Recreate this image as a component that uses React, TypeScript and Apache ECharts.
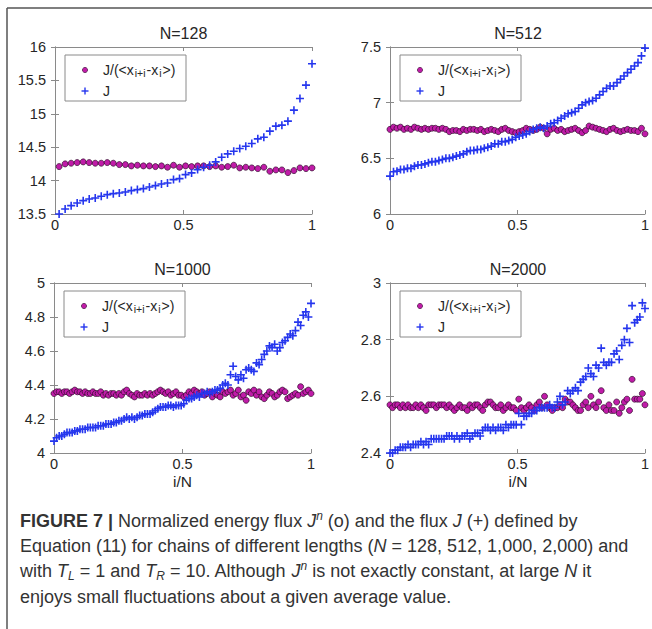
import React, { useEffect, useRef } from "react";
import * as echarts from "echarts";

// ---------- data ----------
const titles = ["N=128", "N=512", "N=1000", "N=2000"];
const legendNames = ["J/(<x_{i+i}-x_i>)", "J"];

const yMin = [13.5, 6, 4, 2.4];
const yMax = [16, 7.5, 5, 3];
const yStep = [0.5, 0.5, 0.2, 0.2];
const xFirst = [0.016, 0.0, 0.0, 0.0];

const circ128 = [
  14.21, 14.25, 14.26, 14.27, 14.28, 14.27, 14.26, 14.26, 14.27, 14.26,
  14.24, 14.24, 14.22, 14.23, 14.22, 14.22, 14.21, 14.22, 14.2, 14.23,
  14.2, 14.22, 14.21, 14.22, 14.22, 14.21, 14.22, 14.2, 14.21, 14.23,
  14.19, 14.2, 14.19, 14.18, 14.2, 14.14, 14.16, 14.16, 14.12, 14.15,
  14.19, 14.18, 14.19,
];
const flux128 = [
  13.5, 13.575, 13.625, 13.665, 13.7, 13.725, 13.74, 13.765, 13.79, 13.805,
  13.815, 13.83, 13.85, 13.865, 13.88, 13.905, 13.925, 13.95, 13.965, 14.015,
  14.03, 14.09, 14.115, 14.165, 14.2, 14.23, 14.28, 14.35, 14.4, 14.44,
  14.48, 14.515, 14.555, 14.625, 14.65, 14.74, 14.815, 14.83, 14.89, 15.055,
  15.23, 15.43, 15.75,
];
const circ512 = [
  6.76, 6.78, 6.77, 6.78, 6.76, 6.77, 6.76, 6.78, 6.77, 6.76,
  6.77, 6.76, 6.77, 6.77, 6.76, 6.77, 6.76, 6.74, 6.75, 6.75,
  6.74, 6.76, 6.75, 6.76, 6.76, 6.75, 6.76, 6.74, 6.75, 6.76,
  6.75, 6.74, 6.76, 6.77, 6.75, 6.74, 6.73, 6.74, 6.75, 6.77,
  6.76, 6.75, 6.76, 6.78, 6.77, 6.72, 6.76, 6.77, 6.75, 6.76,
  6.74, 6.75, 6.76, 6.77, 6.75, 6.73, 6.75, 6.79, 6.78, 6.77,
  6.76, 6.75, 6.74, 6.76, 6.77, 6.75, 6.74, 6.75, 6.76, 6.75,
  6.75, 6.74, 6.77, 6.72,
];
const flux512 = [
  6.34, 6.38, 6.385, 6.4, 6.4, 6.41, 6.41, 6.43, 6.44, 6.44,
  6.45, 6.46, 6.47, 6.47, 6.48, 6.49, 6.5, 6.5, 6.51, 6.52,
  6.53, 6.54, 6.56, 6.57, 6.57, 6.58, 6.58, 6.59, 6.6, 6.61,
  6.63, 6.63, 6.65, 6.65, 6.66, 6.67, 6.69, 6.7, 6.71, 6.72,
  6.74, 6.76, 6.77, 6.78, 6.77, 6.79, 6.81, 6.82, 6.84, 6.86,
  6.88, 6.9, 6.91, 6.92, 6.95, 6.98, 7.0, 7.01, 7.02, 7.04,
  7.07, 7.1, 7.13, 7.15, 7.15, 7.18, 7.21, 7.24, 7.27, 7.3,
  7.33, 7.36, 7.42, 7.49,
];
const circ1000 = [
  4.35, 4.36, 4.36, 4.35, 4.36, 4.36, 4.35, 4.36, 4.37, 4.36,
  4.36, 4.35, 4.36, 4.35, 4.35, 4.36, 4.35, 4.35, 4.36, 4.34,
  4.35, 4.34, 4.35, 4.35, 4.34, 4.35, 4.34, 4.36, 4.37, 4.35,
  4.34, 4.33, 4.35, 4.34, 4.34, 4.35, 4.34, 4.35, 4.34, 4.35,
  4.36, 4.37, 4.36, 4.35, 4.36, 4.34, 4.35, 4.36, 4.34, 4.34,
  4.33, 4.34, 4.36, 4.35, 4.37, 4.36, 4.35, 4.36, 4.34, 4.35,
  4.36, 4.33, 4.35, 4.34, 4.33, 4.36, 4.35, 4.36, 4.37, 4.34,
  4.35, 4.37, 4.33, 4.34, 4.31, 4.36, 4.35, 4.37, 4.34, 4.36,
  4.33, 4.32, 4.34, 4.36, 4.35, 4.33, 4.34, 4.36, 4.37, 4.36,
  4.32, 4.33, 4.34, 4.35, 4.34, 4.39, 4.35, 4.36, 4.37, 4.35,
];
const flux1000 = [
  4.07, 4.09, 4.1, 4.1, 4.11, 4.12, 4.12, 4.12, 4.13, 4.13,
  4.14, 4.14, 4.14, 4.15, 4.15, 4.15, 4.15, 4.16, 4.16, 4.16,
  4.17, 4.17, 4.17, 4.18, 4.18, 4.19, 4.19, 4.2, 4.21, 4.2,
  4.21, 4.2, 4.21, 4.22, 4.22, 4.23, 4.23, 4.23, 4.24, 4.25,
  4.26, 4.27, 4.27, 4.27, 4.28, 4.28, 4.27, 4.28, 4.28, 4.28,
  4.29, 4.31, 4.32, 4.32, 4.33, 4.34, 4.33, 4.35, 4.35, 4.36,
  4.35, 4.36, 4.37, 4.37, 4.38, 4.4, 4.41, 4.4, 4.46, 4.51,
  4.45, 4.43, 4.46, 4.44, 4.49, 4.5, 4.49, 4.48, 4.53, 4.52,
  4.55, 4.58, 4.6, 4.63, 4.62, 4.64, 4.6, 4.62, 4.65, 4.66,
  4.68, 4.7, 4.69, 4.72, 4.77, 4.75, 4.81, 4.83, 4.8, 4.88,
];
const circ2000 = [
  2.57, 2.56, 2.57, 2.57, 2.56, 2.57, 2.56, 2.57, 2.56, 2.56,
  2.57, 2.56, 2.57, 2.56, 2.55, 2.57, 2.57, 2.57, 2.56, 2.57,
  2.57, 2.57, 2.56, 2.57, 2.56, 2.55, 2.56, 2.57, 2.56, 2.56,
  2.55, 2.57, 2.56, 2.57, 2.57, 2.56, 2.55, 2.57, 2.58, 2.58,
  2.57, 2.56, 2.56, 2.57, 2.55, 2.56, 2.57, 2.56, 2.56, 2.55,
  2.59, 2.56, 2.55, 2.56, 2.57, 2.56, 2.55, 2.57, 2.58, 2.56,
  2.6, 2.57, 2.56, 2.55, 2.56, 2.56, 2.57, 2.56, 2.59, 2.58,
  2.58, 2.57, 2.56, 2.55, 2.55, 2.57, 2.58, 2.56, 2.6, 2.57,
  2.56, 2.58, 2.62, 2.56, 2.55, 2.57, 2.55, 2.55, 2.58, 2.54,
  2.56, 2.58, 2.59, 2.55, 2.66, 2.59, 2.59, 2.59, 2.61, 2.57,
];
const flux2000 = [
  2.4, 2.4, 2.41, 2.41, 2.42, 2.42, 2.42, 2.43, 2.42, 2.43,
  2.43, 2.43, 2.44, 2.43, 2.44, 2.43, 2.45, 2.45, 2.45, 2.45,
  2.45, 2.45, 2.46, 2.46, 2.46, 2.45, 2.46, 2.45, 2.46, 2.46,
  2.47, 2.45, 2.46, 2.47, 2.47, 2.46, 2.48, 2.49, 2.49, 2.48,
  2.49, 2.48, 2.49, 2.49, 2.48, 2.5, 2.49, 2.5, 2.5, 2.5,
  2.54, 2.5, 2.53, 2.53, 2.54, 2.54, 2.55, 2.55, 2.56, 2.56,
  2.56, 2.56, 2.57, 2.56, 2.56, 2.58, 2.6, 2.57, 2.58, 2.62,
  2.61, 2.62, 2.63, 2.62, 2.65, 2.66, 2.67, 2.7, 2.68, 2.67,
  2.71, 2.7, 2.77, 2.72, 2.71, 2.72, 2.72, 2.75, 2.76, 2.73,
  2.78, 2.8, 2.84, 2.79, 2.92, 2.86, 2.87, 2.88, 2.93, 2.91,
];

const circSeries = [circ128, circ512, circ1000, circ2000];
const fluxSeries = [flux128, flux512, flux1000, flux2000];

// ---------- layout ----------
const grids = [
  { left: 55, top: 47, width: 257, height: 167 },
  { left: 390, top: 47, width: 256, height: 167 },
  { left: 54, top: 283, width: 257, height: 170 },
  { left: 390, top: 283, width: 256, height: 170 },
];
const FONT = "'Liberation Sans', Arial, Helvetica, sans-serif";
const MAGENTA = "#c01ca8";
const MAG_EDGE = "#2e0a2a";
const BLUE = "#2536ee";
const AXIS = "#8a8a8a";
const TEXT = "#262626";
const PLUS = "path://M0,4H4V0H6V4H10V6H6V10H4V6H0Z";

function toPairs(vals: number[], x0: number) {
  const n = vals.length;
  return vals.map((v, i) => [x0 + ((1 - x0) * i) / (n - 1), v]);
}
const fmt = (v: number) => String(+v.toFixed(2));

export default function App() {
  const ref = useRef<HTMLDivElement>(null);
  useEffect(() => {
    if (!ref.current) return;
    const chart = echarts.init(ref.current, undefined, { renderer: "svg" });
    const xAxis: any[] = [];
    const yAxis: any[] = [];
    const series: any[] = [];
    const graphic: any[] = [];

    grids.forEach((g, i) => {
      const tickStyle = { show: true, inside: true, length: 4, lineStyle: { color: AXIS, width: 1 } };
      const lineStyle = { show: true, lineStyle: { color: AXIS, width: 1 } };
      xAxis.push({
        type: "value", gridIndex: i, position: "bottom", min: 0, max: 1, interval: 0.5,
        axisLine: lineStyle, axisTick: tickStyle, splitLine: { show: false },
        axisLabel: { color: TEXT, fontSize: 14.5, lineHeight: 14, fontFamily: FONT, margin: 4, formatter: fmt },
      });
      xAxis.push({
        type: "value", gridIndex: i, position: "top", min: 0, max: 1, interval: 0.5,
        axisLine: lineStyle, axisTick: tickStyle, splitLine: { show: false }, axisLabel: { show: false },
      });
      yAxis.push({
        type: "value", gridIndex: i, position: "left", min: yMin[i], max: yMax[i], interval: yStep[i],
        axisLine: lineStyle, axisTick: tickStyle, splitLine: { show: false },
        axisLabel: { color: TEXT, fontSize: 14.5, fontFamily: FONT, margin: 9, formatter: fmt },
      });
      yAxis.push({
        type: "value", gridIndex: i, position: "right", min: yMin[i], max: yMax[i], interval: yStep[i],
        axisLine: lineStyle, axisTick: tickStyle, splitLine: { show: false }, axisLabel: { show: false },
      });
      series.push({
        type: "scatter", name: legendNames[0], xAxisIndex: 2 * i, yAxisIndex: 2 * i,
        data: toPairs(circSeries[i], xFirst[i]), symbol: "circle", symbolSize: 6,
        itemStyle: { color: MAGENTA, borderColor: MAG_EDGE, borderWidth: 0.7, opacity: 1 },
        clip: false, z: 2,
      });
      series.push({
        type: "scatter", name: legendNames[1], xAxisIndex: 2 * i, yAxisIndex: 2 * i,
        data: toPairs(fluxSeries[i], xFirst[i]), symbol: PLUS, symbolSize: 8,
        itemStyle: { color: BLUE, opacity: 1 }, clip: false, z: 3,
      });

      // title
      graphic.push({
        type: "text", x: g.left + g.width / 2, y: g.top - 14,
        style: { text: titles[i], fontSize: 16, fontFamily: FONT, fill: TEXT, align: "center", verticalAlign: "middle" },
      });
      if (i >= 2) {
        graphic.push({
          type: "text", x: g.left + g.width / 2, y: g.top + g.height + 28,
          style: { text: "i/N", fontSize: 15.5, lineHeight: 15, fontFamily: FONT, fill: TEXT, align: "center", verticalAlign: "middle" },
        });
      }
      // legend box
      const bx = g.left + 10;
      const by = g.top + 8;
      graphic.push({
        type: "rect", shape: { x: bx, y: by, width: 121, height: 46 },
        style: { fill: "#fff", stroke: "#8a8a8a", lineWidth: 1 }, z: 10,
      });
      graphic.push({
        type: "circle", shape: { cx: g.left + 30, cy: by + 15, r: 2.6 },
        style: { fill: MAGENTA, stroke: MAG_EDGE, lineWidth: 0.6 }, z: 11,
      });
      graphic.push({
        type: "line", shape: { x1: g.left + 26.5, y1: by + 36, x2: g.left + 33.5, y2: by + 36 },
        style: { stroke: BLUE, lineWidth: 1.4 }, z: 11,
      });
      graphic.push({
        type: "line", shape: { x1: g.left + 30, y1: by + 32.5, x2: g.left + 30, y2: by + 39.5 },
        style: { stroke: BLUE, lineWidth: 1.4 }, z: 11,
      });
      graphic.push({
        type: "text", x: g.left + 48, y: by + 15, z: 11,
        style: {
          text: "{m|J/(<x}{s|i+i}{m|-x}{s|i}{m|>)}",
          verticalAlign: "middle", align: "left",
          rich: {
            m: { fontSize: 14, fontFamily: FONT, fill: TEXT, lineHeight: 17 },
            s: { fontSize: 10.5, fontFamily: FONT, fill: TEXT, lineHeight: 10, verticalAlign: "bottom", padding: [0, 1, 0, 1] },
          },
        },
      });
      graphic.push({
        type: "text", x: g.left + 48, y: by + 36, z: 11,
        style: { text: "J", fontSize: 14, fontFamily: FONT, fill: TEXT, verticalAlign: "middle", align: "left" },
      });
    });

    // frame
    graphic.push({ type: "line", shape: { x1: 7, y1: 8, x2: 652, y2: 8 }, style: { stroke: "#555", lineWidth: 1.5 } });
    graphic.push({ type: "line", shape: { x1: 7, y1: 8, x2: 7, y2: 629 }, style: { stroke: "#555", lineWidth: 1.5 } });

    // caption
    const base = { fontSize: 18, fontFamily: FONT, fill: "#333", lineHeight: 22 };
    const rich = {
      b: { ...base, fontWeight: "bold" },
      i: { ...base, fontStyle: "italic" },
      sup: { fontSize: 12, fontFamily: FONT, fill: "#333", lineHeight: 12, verticalAlign: "top", fontStyle: "italic" },
      sub: { fontSize: 12, fontFamily: FONT, fill: "#333", lineHeight: 12, verticalAlign: "bottom", fontStyle: "italic" },
      t: base,
    };
    const captionLines = [
      "{b|FIGURE 7 |}{t| Normalized energy flux }{i|J}{sup|n}{t| (o) and the flux }{i|J}{t| (+) defined by}",
      "{t|Equation (11) for chains of different lengths (}{i|N}{t| = 128, 512, 1,000, 2,000) and}",
      "{t|with }{i|T}{sub|L}{t| = 1 and }{i|T}{sub|R}{t| = 10. Although }{i|J}{sup|n}{t| is not exactly constant, at large }{i|N}{t| it}",
      "{t|enjoys small fluctuations about a given average value.}",
    ];
    const captionY = [521, 546, 571, 597];
    captionLines.forEach((txt, k) => {
      graphic.push({
        type: "text", x: 20, y: captionY[k],
        style: { text: txt, rich, verticalAlign: "middle", align: "left" },
      });
    });

    chart.setOption({
      animation: false,
      backgroundColor: "#fff",
      grid: grids.map((g) => ({ ...g, containLabel: false })),
      xAxis,
      yAxis,
      series,
      graphic,
    });
    return () => chart.dispose();
  }, []);
  return (
    <div
      ref={ref}
      style={{ position: "fixed", left: 0, top: 0, width: 652, height: 629, background: "#fff" }}
    />
  );
}
